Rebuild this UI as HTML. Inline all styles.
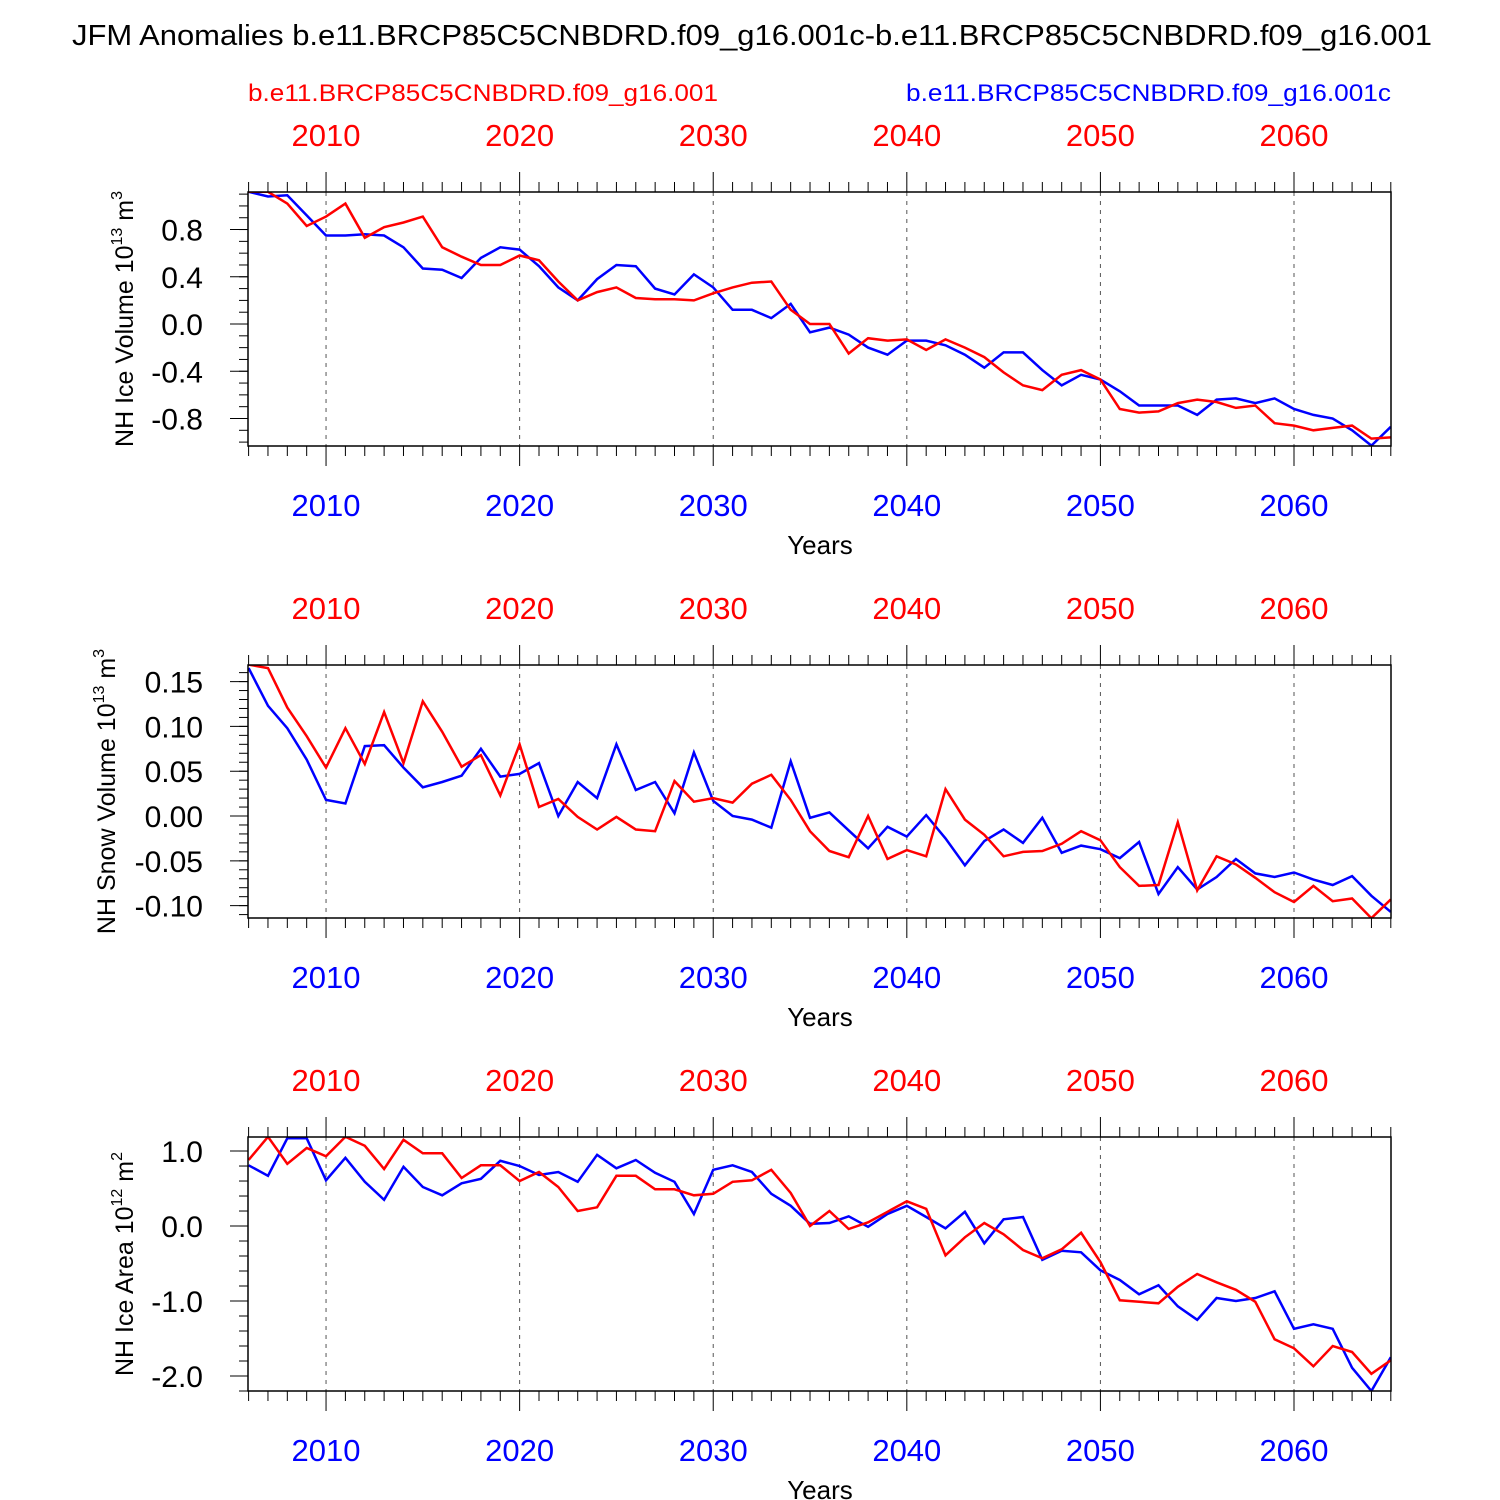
<!DOCTYPE html>
<html><head><meta charset="utf-8"><style>
html,body{margin:0;padding:0;background:#fff}
svg{display:block;font-family:"Liberation Sans",sans-serif}
</style></head><body>
<svg id="chart" width="1500" height="1500" viewBox="0 0 1500 1500" xmlns="http://www.w3.org/2000/svg">
<text x="72" y="45" font-size="29" textLength="1360" lengthAdjust="spacingAndGlyphs">JFM Anomalies b.e11.BRCP85C5CNBDRD.f09_g16.001c-b.e11.BRCP85C5CNBDRD.f09_g16.001</text>
<text x="248" y="101" font-size="24" fill="#ff0000" textLength="470" lengthAdjust="spacingAndGlyphs">b.e11.BRCP85C5CNBDRD.f09_g16.001</text>
<text x="906" y="101" font-size="24" fill="#0000ff" textLength="485" lengthAdjust="spacingAndGlyphs">b.e11.BRCP85C5CNBDRD.f09_g16.001c</text>
</svg>
<script>
const startYear = 2006;
const iceVolRed = [1.12,1.12,1.02,0.83,0.91,1.02,0.73,0.82,0.86,0.91,0.65,0.57,0.50,0.50,0.58,0.54,0.36,0.20,0.27,0.31,0.22,0.21,0.21,0.20,0.26,0.31,0.35,0.36,0.12,0,0,-0.25,-0.12,-0.14,-0.13,-0.22,-0.13,-0.20,-0.28,-0.41,-0.52,-0.56,-0.43,-0.39,-0.47,-0.72,-0.75,-0.74,-0.67,-0.64,-0.66,-0.71,-0.69,-0.84,-0.86,-0.90,-0.88,-0.86,-0.97,-0.96];
const iceVolBlue = [1.12,1.08,1.09,0.92,0.75,0.75,0.76,0.75,0.65,0.47,0.46,0.39,0.56,0.65,0.63,0.49,0.31,0.20,0.38,0.50,0.49,0.30,0.25,0.42,0.31,0.12,0.12,0.05,0.17,-0.07,-0.03,-0.09,-0.20,-0.26,-0.14,-0.14,-0.18,-0.26,-0.37,-0.24,-0.24,-0.39,-0.52,-0.43,-0.47,-0.57,-0.69,-0.69,-0.69,-0.77,-0.64,-0.63,-0.67,-0.63,-0.72,-0.77,-0.80,-0.90,-1.03,-0.87];
const snowVolRed = [0.169,0.165,0.121,0.089,0.054,0.098,0.058,0.116,0.059,0.128,0.094,0.055,0.068,0.023,0.080,0.010,0.019,-0.001,-0.015,-0.001,-0.015,-0.017,0.039,0.016,0.020,0.015,0.036,0.046,0.018,-0.017,-0.039,-0.046,0.000,-0.048,-0.038,-0.045,0.030,-0.004,-0.021,-0.045,-0.040,-0.039,-0.031,-0.017,-0.027,-0.057,-0.078,-0.077,-0.007,-0.083,-0.045,-0.054,-0.069,-0.085,-0.096,-0.078,-0.095,-0.092,-0.114,-0.093];
const snowVolBlue = [0.165,0.123,0.098,0.063,0.018,0.014,0.078,0.079,0.054,0.032,0.038,0.045,0.075,0.044,0.047,0.059,0.000,0.038,0.020,0.080,0.029,0.038,0.003,0.071,0.017,0.000,-0.004,-0.013,0.061,-0.002,0.004,-0.016,-0.036,-0.012,-0.023,0.001,-0.025,-0.055,-0.028,-0.015,-0.030,-0.002,-0.041,-0.033,-0.037,-0.047,-0.029,-0.087,-0.057,-0.082,-0.068,-0.048,-0.064,-0.068,-0.063,-0.071,-0.077,-0.067,-0.089,-0.107];
const iceAreaRed = [0.88,1.19,0.83,1.04,0.93,1.19,1.07,0.76,1.15,0.97,0.97,0.64,0.81,0.81,0.60,0.72,0.52,0.20,0.25,0.67,0.67,0.49,0.49,0.41,0.43,0.59,0.61,0.75,0.44,0.00,0.20,-0.04,0.05,0.19,0.33,0.23,-0.39,-0.15,0.04,-0.11,-0.32,-0.43,-0.31,-0.09,-0.48,-0.99,-1.01,-1.03,-0.81,-0.64,-0.75,-0.85,-1.01,-1.51,-1.63,-1.87,-1.60,-1.68,-1.97,-1.79];
const iceAreaBlue = [0.81,0.67,1.17,1.17,0.61,0.91,0.59,0.35,0.79,0.52,0.41,0.57,0.63,0.87,0.80,0.68,0.72,0.59,0.95,0.77,0.88,0.71,0.59,0.16,0.75,0.81,0.72,0.43,0.27,0.03,0.04,0.13,-0.01,0.16,0.27,0.12,-0.03,0.19,-0.23,0.09,0.12,-0.45,-0.33,-0.35,-0.59,-0.72,-0.91,-0.79,-1.07,-1.25,-0.96,-1.00,-0.96,-0.87,-1.37,-1.31,-1.37,-1.89,-2.20,-1.75];
const xTickYears = [2010,2020,2030,2040,2050,2060];
const iceVolTicks = [0.8,0.4,0.0,-0.4,-0.8];
const snowVolTicks = [0.15,0.10,0.05,0.00,-0.05,-0.10];
const iceAreaTicks = [1.0,0.0,-1.0,-2.0];

const NS='http://www.w3.org/2000/svg';
const svg=document.getElementById('chart');
function mk(tag,attrs,parent){const e=document.createElementNS(NS,tag);for(const k in attrs)e.setAttribute(k,attrs[k]);(parent||svg).appendChild(e);return e;}
const X0=248.6,X1=1390.8;
function xs(yr){return X0+(yr-2006)*(X1-X0)/59;}

function panel(id,top,bot,vmax,vmin,ticks,fmt,minorStep,red,blue,titleMain,sup,unit,titleX){
  const g=mk('g',{});
  
  
  const ys=v=>top+(vmax-v)*(bot-top)/(vmax-vmin);
  xTickYears.forEach(yr=>{const l=mk('line',{x1:xs(yr),x2:xs(yr),y1:top,y2:bot,stroke:'#555','stroke-width':1,'stroke-dasharray':'4,5'},g);
    });
  for(let yr=2006;yr<=2065;yr++){const maj=yr%10==0;const len=maj?20:10;
    mk('line',{x1:xs(yr),x2:xs(yr),y1:bot,y2:bot+len,stroke:'#000','stroke-width':1},g);
    mk('line',{x1:xs(yr),x2:xs(yr),y1:top,y2:top-len,stroke:'#000','stroke-width':1},g);}
  xTickYears.forEach(yr=>{
    const t=mk('text',{x:xs(yr),y:top-46,'font-size':31,fill:'#ff0000','text-anchor':'middle'},g);t.textContent=yr;
    
    const b=mk('text',{x:xs(yr),y:bot+70,'font-size':31,fill:'#0000ff','text-anchor':'middle'},g);b.textContent=yr;
    });
  const xt=mk('text',{x:820,y:bot+108,'font-size':26,'text-anchor':'middle'},g);xt.textContent='Years';
  
  const n0=Math.ceil(vmin/minorStep-1e-6),n1=Math.floor(vmax/minorStep+1e-6);
  for(let i=n0;i<=n1;i++){mk('line',{x1:248-9,x2:248,y1:ys(i*minorStep),y2:ys(i*minorStep),stroke:'#000','stroke-width':1},g);}
  ticks.forEach(v=>{mk('line',{x1:248-18,x2:248,y1:ys(v),y2:ys(v),stroke:'#000','stroke-width':1},g);
    const t=mk('text',{x:203,y:ys(v)+11,'font-size':30,'text-anchor':'end'},g);t.textContent=fmt(v);
    });
  const cy=(top+bot)/2;
  const yt=mk('text',{x:0,y:0,'font-size':25,'text-anchor':'middle',transform:`translate(${titleX},${cy}) rotate(-90)`},g);
  
  const s1=document.createElementNS(NS,'tspan');s1.textContent=titleMain+' 10';yt.appendChild(s1);
  const s2=document.createElementNS(NS,'tspan');s2.setAttribute('dy','-11');s2.setAttribute('font-size','16');s2.textContent=sup;yt.appendChild(s2);
  const s3=document.createElementNS(NS,'tspan');s3.setAttribute('dy','11');s3.textContent=' '+unit.charAt(0);yt.appendChild(s3);
  const s4=document.createElementNS(NS,'tspan');s4.setAttribute('dy','-11');s4.setAttribute('font-size','16');s4.textContent=unit.charAt(1);yt.appendChild(s4);
  const cp=mk('clipPath',{id:'clip-'+id},g);mk('rect',{x:248,y:top,width:1143,height:bot-top},cp);
  const mkLine=(arr,col,name)=>{const d=arr.map((v,i)=>(i?'L':'M')+xs(startYear+i).toFixed(1)+','+ys(v).toFixed(1)).join(' ');
    const p=mk('path',{d:d,fill:'none',stroke:col,'stroke-width':2.5,'clip-path':`url(#clip-${id})`},g);
    };
  mkLine(blue,'#0000ff',id+'-blue-line');
  mkLine(red,'#ff0000',id+'-red-line');
  const fr=mk('rect',{x:248,y:top,width:1143,height:bot-top,fill:'none',stroke:'#000','stroke-width':1.5},g);
  
}
panel('ice-volume',192,446,1.118,-1.033,iceVolTicks,v=>v.toFixed(1),0.1,iceVolRed,iceVolBlue,'NH Ice Volume','13','m3',133);
panel('snow-volume',665,918,0.1685,-0.1138,snowVolTicks,v=>v.toFixed(2),0.01,snowVolRed,snowVolBlue,'NH Snow Volume','13','m3',115);
panel('ice-area',1137,1391,1.187,-2.2,iceAreaTicks,v=>v.toFixed(1),0.2,iceAreaRed,iceAreaBlue,'NH Ice Area','12','m2',133);
</script>
</body></html>
